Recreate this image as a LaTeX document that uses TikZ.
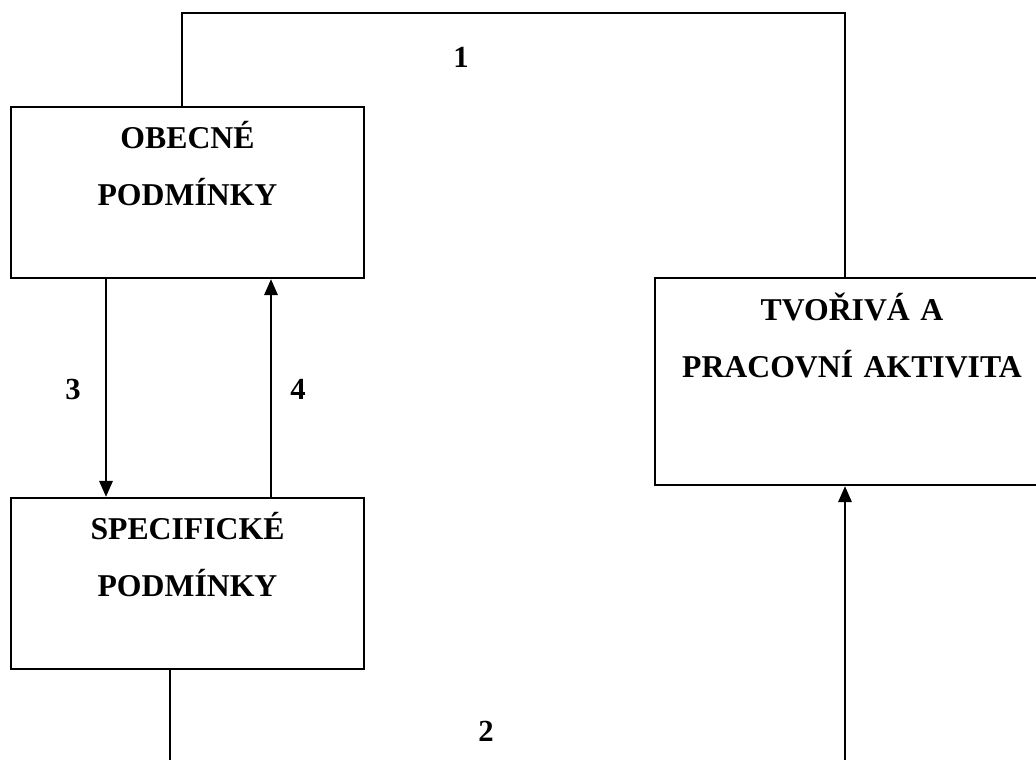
\documentclass[tikz,border=0pt]{standalone}
\usepackage{fontspec}
\setmainfont{Liberation Serif}
\usetikzlibrary{arrows.meta}
\tikzset{
  box/.style={draw, line width=1.7pt, inner sep=0pt},
  boxtext/.style={anchor=base, align=center, inner sep=0pt, text width=#1,
    font=\bfseries\fontsize{23.8}{42.75}\selectfont},
  lbl/.style={inner sep=0pt, font=\bfseries\fontsize{23}{25}\selectfont},
  conn/.style={line width=1.7pt},
  arr/.style={line width=1.7pt, -{Triangle[length=12pt,width=10pt]}}
}
\begin{document}
\begin{tikzpicture}[x=0.75pt,y=-0.75pt]
\useasboundingbox (0,0) rectangle (1036,760);
\clip (0,0) rectangle (1036,760);
% boxes
\node[box, minimum width=264.75pt, minimum height=128.25pt] (b1) at (187.5,192.5) {};
\node[box, minimum width=264.75pt, minimum height=128.25pt] (b2) at (187.5,583.5) {};
\node[box, minimum width=294pt, minimum height=155.25pt] (b3) at (851,381.5) {};
% texts
\node[boxtext=260pt] (t1) at (187.5,148) {OBECNÉ\\PODMÍNKY};
\node[boxtext=260pt] (t2) at (187.5,539) {SPECIFICKÉ\\PODMÍNKY};
\node[boxtext=290pt] (t3) at (852,320) {TVOŘIVÁ A\\PRACOVNÍ AKTIVITA};
% connector coordinates
\coordinate (k1) at (182,13);
\coordinate (k2) at (845,13);
\coordinate (k3) at (170,775);
\coordinate (k4) at (845,775);
\coordinate (a3) at (106,0);
\coordinate (a4) at (271,0);
% connectors
\draw[conn] (b1.north -| k1) -- (k1) -- (k2) -- (b3.north -| k2);
\draw[conn] (b2.south -| k3) -- (k3);
\draw[arr] (k4) -- (b3.south -| k4);
\draw[arr] (b1.south -| a3) -- (b2.north -| a3);
\draw[arr] (b2.north -| a4) -- (b1.south -| a4);
% labels
\node[lbl] (l1) at (461,57) {1};
\node[lbl] (l2) at (486,731) {2};
\node[lbl] (l3) at (73,389) {3};
\node[lbl] (l4) at (298,389) {4};
\end{tikzpicture}
\end{document}
